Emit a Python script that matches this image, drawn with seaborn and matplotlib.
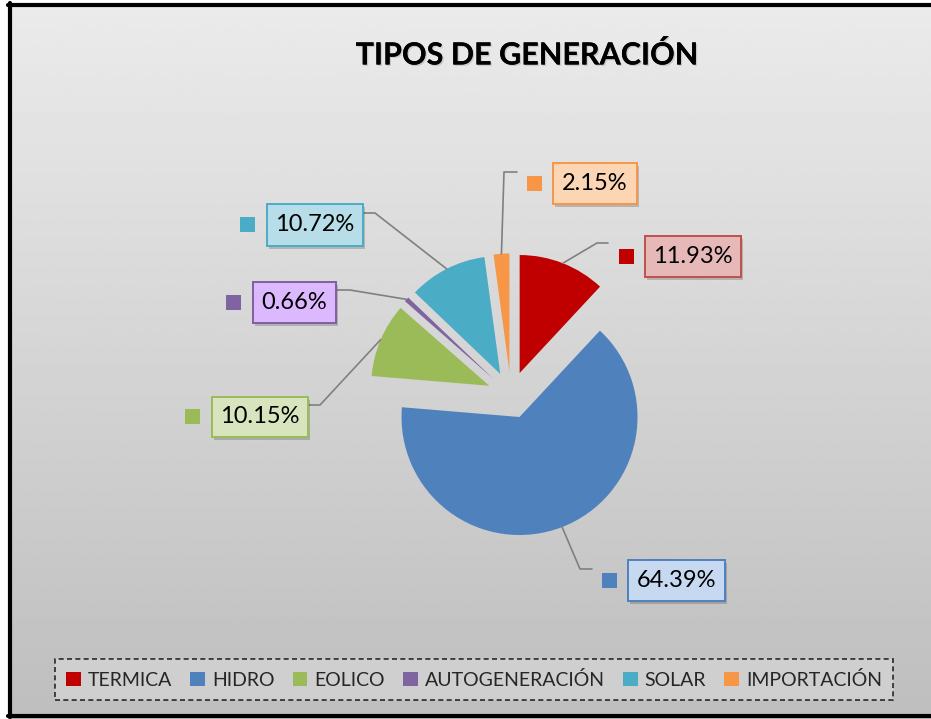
import numpy as np
import matplotlib
matplotlib.use("Agg")
import matplotlib.pyplot as plt
import matplotlib.patheffects as pe
from matplotlib.patches import Rectangle
from matplotlib.lines import Line2D
import seaborn as sns

# ---------------- data ----------------
categories = ["TERMICA", "HIDRO", "EOLICO", "AUTOGENERACIÓN", "SOLAR", "IMPORTACIÓN"]
values = [11.93, 64.39, 10.15, 0.66, 10.72, 2.15]
title = "TIPOS DE GENERACIÓN"

# ---------------- style ----------------
sns.set_theme(style="white")
plt.rcParams['font.family'] = ['Lato', 'DejaVu Sans']

colors = sns.color_palette(["#C00000", "#4F81BD", "#9BBB59", "#8064A2", "#4BACC6", "#F79646"])
box_fill = ["#E6B9B8", "#C6D9F1", "#D7E4BD", "#DCB8FF", "#B7DEE8", "#FCD5B5"]
box_edge = ["#C0504D", "#4F81BD", "#9BBB59", "#7F5FA0", "#4BACC6", "#F79646"]

W, H = 931, 719
CX, CY, R = 511, 395, 118   # pie centre and radius in pixels

# label layout (pixels): elbow point, line end, box [x0, y0, x1, y1]
elbows = [(597, 243), (580, 569), (320, 405), (350, 290), (375, 213), (504, 172)]
ends = [(608, 243), (592, 569), (308, 405), (337, 290), (363, 213), (517, 172)]
boxes = [(645, 236, 741, 277), (628, 560, 725, 601), (212, 397, 308, 437),
         (253, 282, 336, 323), (267, 204, 363, 246), (553, 163, 637, 204)]

fig = plt.figure(figsize=(W / 100, H / 100), dpi=100)

# background gradient
bg = fig.add_axes([0, 0, 1, 1], zorder=-10)
grad = np.linspace(235, 190, 256)[:, None] / 255.0
bg.imshow(np.repeat(grad, 2, axis=1), cmap="gray", vmin=0, vmax=1,
          extent=[0, W, H, 0], aspect="auto", interpolation="bilinear")
bg.add_patch(Rectangle((0, 0), 8, H, color="white", lw=0))
bg.add_patch(Rectangle((0, 0), W, 3, color="white", lw=0))
bg.add_line(Line2D([10, 10], [3, 717], color="black", lw=3))
bg.add_line(Line2D([8, W], [5, 5], color="black", lw=3))
bg.add_line(Line2D([8, W], [715.5, 715.5], color="black", lw=3))
bg.set_xlim(0, W)
bg.set_ylim(H, 0)
bg.axis("off")

# title
fig.text(527 / W, 1 - 55 / H, title, ha="center", va="center", fontsize=22,
         fontweight="bold", color="black",
         path_effects=[pe.withSimplePatchShadow(offset=(1.0, -1.0), shadow_rgbFace="gray", alpha=0.3),
                       pe.Normal()])

# pie axes covering the whole figure; 1 data unit = R pixels
ax = fig.add_axes([0, 0, 1, 1])
wedges, _ = ax.pie(values, colors=colors, startangle=90, counterclock=False,
                   explode=[0.2] * len(values), radius=1,
                   wedgeprops=dict(linewidth=0))
ax.set_xlim((0 - CX) / R, (W - CX) / R)
ax.set_ylim((CY - H) / R, CY / R)
ax.set_aspect("equal")
ax.axis("off")


def px2d(px, py):
    return ((px - CX) / R, (CY - py) / R)


for i, w in enumerate(wedges):
    ang = np.deg2rad((w.theta1 + w.theta2) / 2)
    cx, cy = w.center
    ax_pt = (cx + w.r * np.cos(ang), cy + w.r * np.sin(ang))
    e = px2d(*elbows[i])
    n = px2d(*ends[i])
    ax.add_line(Line2D([ax_pt[0], e[0], n[0]], [ax_pt[1], e[1], n[1]],
                       color="#808080", lw=1.2, zorder=1))
    x0, y0, x1, y1 = boxes[i]
    bx, by = px2d(x0, y1)
    bw, bh = (x1 - x0) / R, (y1 - y0) / R
    # shadow
    ax.add_patch(Rectangle((bx + 2 / R, by - 3 / R), bw, bh, facecolor="black",
                           alpha=0.18, lw=0, zorder=2))
    ax.add_patch(Rectangle((bx, by), bw, bh, facecolor=box_fill[i],
                           edgecolor=box_edge[i], lw=1.4, zorder=3))
    ax.text(bx + bw / 2, by + bh / 2, f"{values[i]:.2f}%", ha="center", va="center",
            fontsize=17, color="black", zorder=4)
    # legend key square
    mx, my = px2d(x0 - 19, (y0 + y1) / 2)
    s = 15 / R
    ax.add_patch(Rectangle((mx - s / 2, my - s / 2), s, s, facecolor=colors[i],
                           lw=0, zorder=3))

# legend
handles = [Rectangle((0, 0), 1, 1, facecolor=c, lw=0) for c in colors]
leg = fig.legend(handles, categories, loc="center",
                 bbox_to_anchor=(474 / W, 1 - 679.5 / H), ncol=6,
                 fontsize=14, frameon=True, handlelength=0.75, handleheight=0.75,
                 handletextpad=0.35, columnspacing=0.95, borderpad=0.6,
                 fancybox=False)
fr = leg.get_frame()
fr.set_facecolor("#D3D3D3")
fr.set_edgecolor("black")
fr.set_linestyle((0, (3, 2)))
fr.set_linewidth(1.2)

fig.savefig("out.png", dpi=100)
